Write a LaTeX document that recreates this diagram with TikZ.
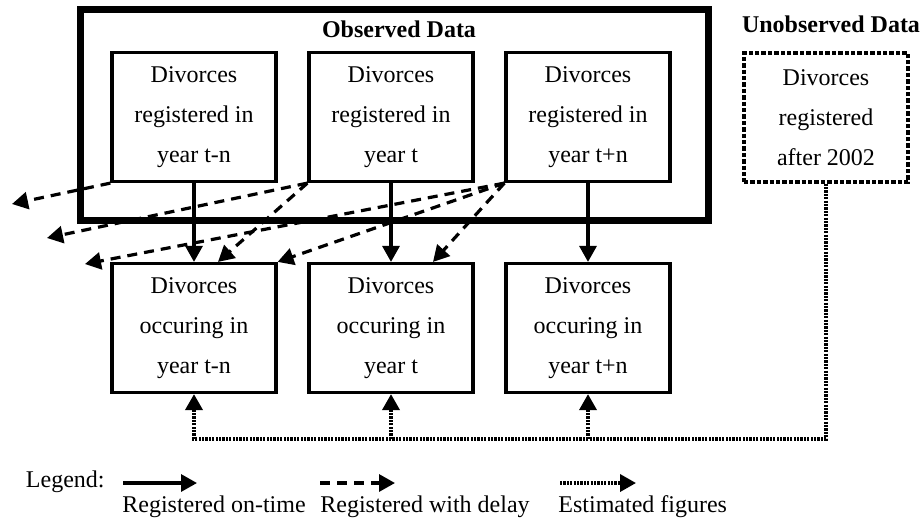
\documentclass[tikz,border=0pt]{standalone}
\usepackage{fontspec}
\setmainfont{Liberation Serif}
\usetikzlibrary{arrows.meta, positioning}
\tikzset{
	databox/.style={draw,rectangle,line width=1.6pt,minimum width=82pt,minimum height=64.5pt,inner sep=0pt,align=center},
	ontime/.style={line width=1.6pt,-{Triangle[length=8pt,width=8.5pt]}},
	delay/.style={ontime,dash pattern=on 5pt off 3.5pt},
	estim/.style={ontime,line width=1.8pt,dash pattern=on 1.1pt off 0.6pt},
	legendtext/.style={inner sep=0pt},
}

\begin{document}
\begin{tikzpicture}[x=0.5pt,y=-0.5pt,font=\fontsize{12}{20}\selectfont]
	\useasboundingbox (0,0) rectangle (920,521);
	% observed and unobserved data
	\node at (394.5,115) (obs) [draw,rectangle,line width=3.2pt,minimum width=314pt,minimum height=105.5pt]{};
	\node at (399,37) (obstitle) [anchor=base]{\textbf{Observed Data}};
	\node at (831,32) (unobstitle) [anchor=base]{\textbf{Unobserved Data}};
	\node at (194,117) (b1) [databox]{Divorces\\registered in\\year t-n};
	\node at (391,117) (b2) [databox]{Divorces\\registered in\\year t};
	\node at (588,117) (b3) [databox]{Divorces\\registered in\\year t+n};
	\node at (826,117.5) (u) [databox,dash pattern=on 2.2pt off 1pt]{Divorces\\registered\\after 2002};
	% year of occurrence
	\node at (194,328) (o1) [databox]{Divorces\\occuring in\\year t-n};
	\node at (391,328) (o2) [databox]{Divorces\\occuring in\\year t};
	\node at (588,328) (o3) [databox]{Divorces\\occuring in\\year t+n};
	\draw[ontime](b1.south) -- (o1.north);
	\draw[ontime](b2.south) -- (o2.north);
	\draw[ontime](b3.south) -- (o3.north);
	% delayed registrations
	\coordinate (d1) at (12,204);
	\coordinate (d2) at (47,238);
	\coordinate (d3) at ([xshift=12pt]o1.north);
	\coordinate (d4) at (85,264);
	\coordinate (d5) at (o1.north east);
	\coordinate (d6) at ([xshift=21pt]o2.north);
	\draw[delay](b1.south west) -- (d1);
	\draw[delay](b2.south west) -- (d2);
	\draw[delay](b2.south west) -- (d3);
	\draw[delay](b3.south west) -- (d4);
	\draw[delay](b3.south west) -- (d5);
	\draw[delay](b3.south west) -- (d6);
	% estimates
	\coordinate (low) at (0,439);
	\draw[estim](u.south) |- (o1.south |- low) -- (o1.south);
	\draw[estim](o2.south |- low) -- (o2.south);
	\draw[estim](o3.south |- low) -- (o3.south);
	% legend
	\node at (105,487) (legend) [legendtext,anchor=base east]{Legend:};
	\coordinate (lo1) at (123,483);
	\coordinate (lo2) at (197,483);
	\coordinate (ld1) at (320,483);
	\coordinate (ld2) at (395,483);
	\coordinate (le1) at (560,483);
	\coordinate (le2) at (636,483);
	\draw[ontime](lo1) -- (lo2);
	\draw[delay](ld1) -- (ld2);
	\draw[estim](le1) -- (le2);
	\node at (122,512) (lon) [legendtext,anchor=base west]{Registered on-time};
	\node at (320,512) (ldel) [legendtext,anchor=base west]{Registered with delay};
	\node at (558,512) (lest) [legendtext,anchor=base west]{Estimated figures};
\end{tikzpicture}
\end{document}
